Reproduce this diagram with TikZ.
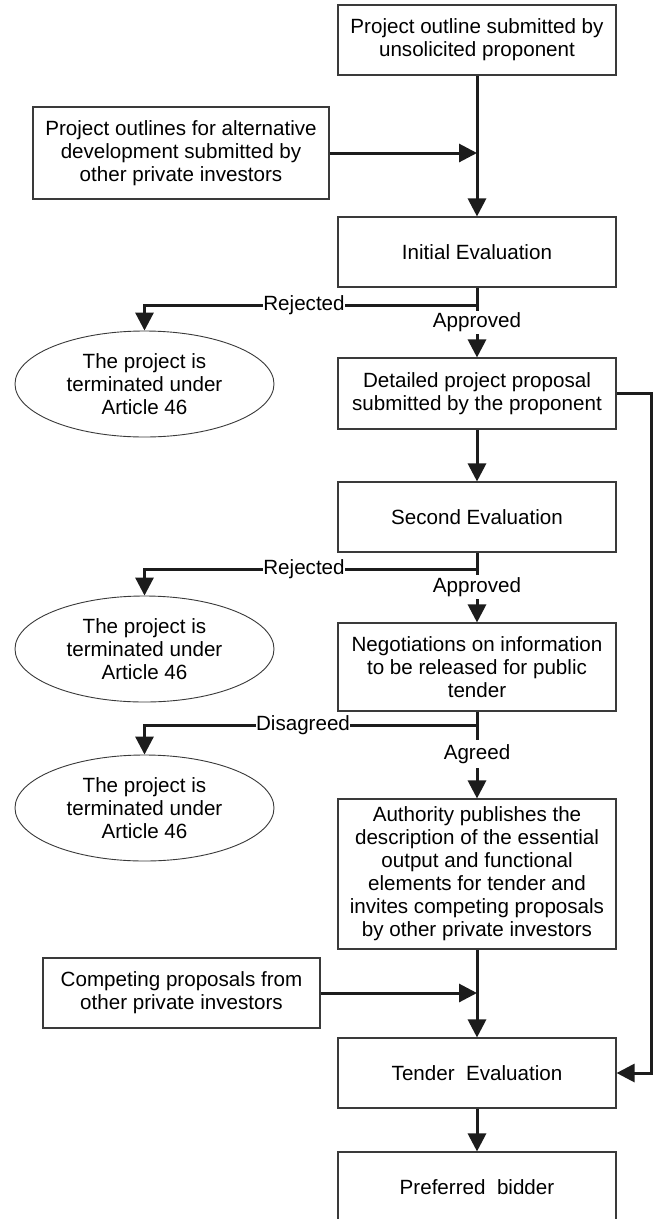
\documentclass[tikz,border=0pt]{standalone}
\usepackage{fontspec}
\setmainfont{Liberation Sans}
\usetikzlibrary{arrows.meta,shapes.geometric}
\definecolor{boxline}{HTML}{3A3A3A}
\definecolor{connline}{HTML}{1C1C1C}
\begin{document}
\begin{tikzpicture}[x=1pt,y=-1pt,
  every node/.style={font=\fontsize{20.6}{23}\selectfont, text=black},
  stepbox/.style={draw=boxline, line width=1.1pt, rectangle, inner sep=0pt,
    minimum width=278pt, minimum height=70pt, align=center},
  endoval/.style={draw=boxline, line width=0.9pt, ellipse, inner sep=0pt,
    minimum width=259pt, minimum height=106pt, align=center},
  conn/.style={draw=connline, line width=3pt},
  arr/.style={conn, -{Triangle[length=18pt,width=18pt]}},
  lbl/.style={fill=white, inner sep=0pt, outer sep=0pt}
]
\useasboundingbox (0,0) rectangle (657,1219);
\clip (0,0) rectangle (657,1219);
\fill[white] (0,0) rectangle (657,1219);

% nodes
\node[stepbox] (top) at (477,40) {Project outline submitted by\\unsolicited proponent};
\node[stepbox, minimum width=296pt, minimum height=92pt] (alt) at (181,153)
  {Project outlines for alternative\\development submitted by\\other private investors};
\node[stepbox] (init) at (477,252) {Initial Evaluation};
\node[endoval] (rej1) at (144.5,384) {The project is\\terminated under\\Article 46};
\node[stepbox, minimum height=71pt] (detail) at (477,393.5) {Detailed project proposal\\submitted by the proponent};
\node[stepbox] (second) at (477,517) {Second Evaluation};
\node[endoval] (rej2) at (144.5,649) {The project is\\terminated under\\Article 46};
\node[stepbox, minimum height=88pt] (nego) at (477,667) {Negotiations on information\\to be released for public\\tender};
\node[endoval] (rej3) at (144.5,808) {The project is\\terminated under\\Article 46};
\node[stepbox, minimum height=150pt] (auth) at (477,874)
  {Authority publishes the\\description of the essential\\output and functional\\elements for tender and\\invites competing proposals\\by other private investors};
\node[stepbox, minimum width=277pt] (comp) at (181.5,993) {Competing proposals from\\other private investors};
\node[stepbox] (tender) at (477,1073) {Tender\ \ Evaluation};
\node[stepbox] (pref) at (477,1187) {Preferred\ \ bidder};

% junction coordinates
\coordinate (j1) at (477,153);
\coordinate (j2) at (477,993);
\coordinate (s1) at (477,311);
\coordinate (h1) at (477,305);
\coordinate (t1) at (477,334);
\coordinate (s2) at (477,575);
\coordinate (h2) at (477,569);
\coordinate (t2) at (477,599);
\coordinate (s3) at (477,740);
\coordinate (h3) at (477,725);
\coordinate (t3) at (477,768);
\coordinate (rl) at (651,393.5);

% main flow
\draw[arr] (top.south) -- (init.north);
\draw[arr] (alt.east) -- (j1);

\draw[conn] (init.south) -- (s1);
\draw[arr] (h1) -| (rej1.north);
\node[lbl] (lr1) at (304,305) {Rejected};
\node[lbl] (la1) at (477,322) {Approved};
\draw[arr] (t1) -- (detail.north);

\draw[arr] (detail.south) -- (second.north);
\draw[conn] (second.south) -- (s2);
\draw[arr] (h2) -| (rej2.north);
\node[lbl] (lr2) at (304,569) {Rejected};
\node[lbl] (la2) at (477,587) {Approved};
\draw[arr] (t2) -- (nego.north);

\draw[conn] (nego.south) -- (s3);
\draw[arr] (h3) -| (rej3.north);
\node[lbl] (ld3) at (303,725) {Disagreed};
\node[lbl] (la3) at (477,754) {Agreed};
\draw[arr] (t3) -- (auth.north);

\draw[arr] (auth.south) -- (tender.north);
\draw[arr] (comp.east) -- (j2);
\draw[arr] (tender.south) -- (pref.north);

% loop on the right
\draw[arr] (detail.east) -- (rl) |- (tender.east);
\end{tikzpicture}
\end{document}
